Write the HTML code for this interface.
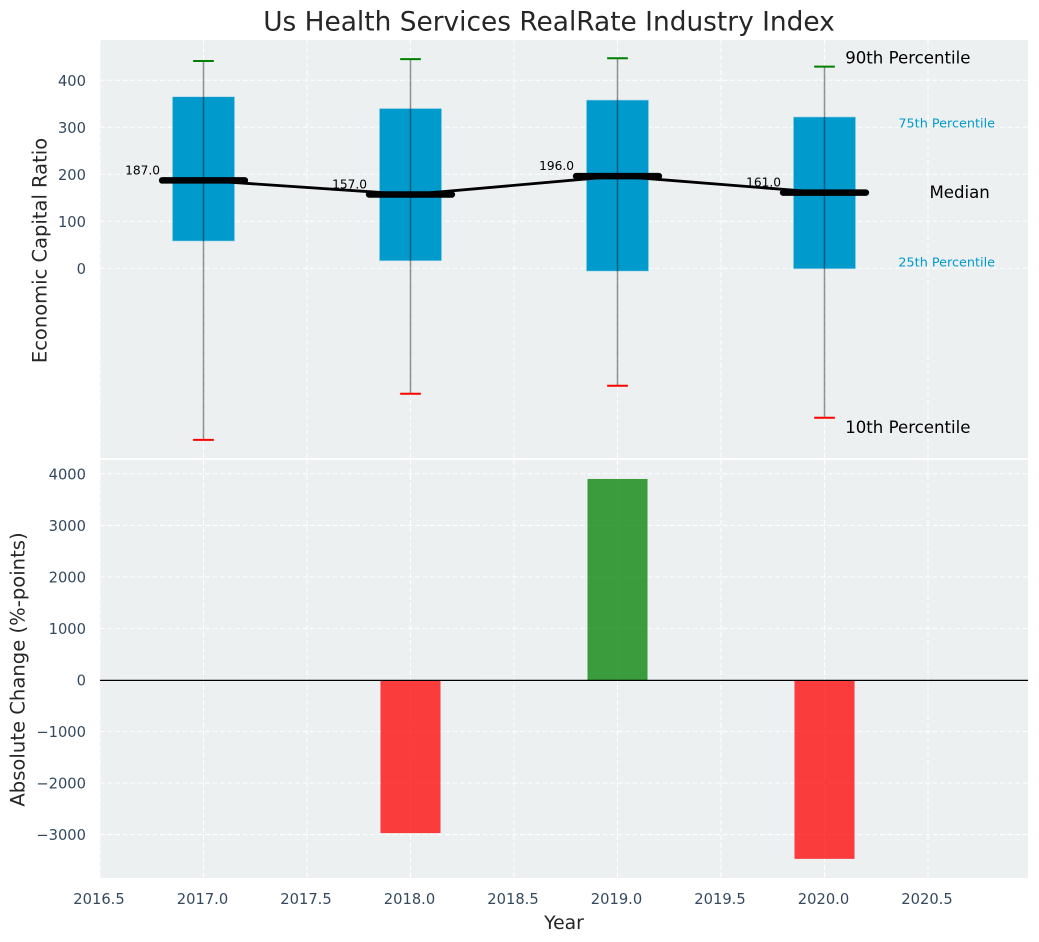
<!DOCTYPE html>
<html lang="en">
<head>
<meta charset="utf-8">
<title>Us Health Services RealRate Industry Index</title>
<style>
html,body{margin:0;padding:0;background:#fff;}
svg{display:block;font-family:"DejaVu Sans","Liberation Sans",sans-serif;}
</style>
</head>
<body>
<svg id="chart" xmlns="http://www.w3.org/2000/svg" width="1039" height="942" viewBox="0 0 1039 942">
  <rect x="100" y="40" width="928" height="418" fill="#ecf0f1"/>
  <rect x="100" y="460" width="928" height="418" fill="#ecf0f1"/>
  <g id="grid"></g>
  <g id="marks"></g>
  <g id="labels"></g>
  <text x="549" y="30.5" text-anchor="middle" font-size="26.4" fill="#262626">Us Health Services RealRate Industry Index</text>
  <text transform="translate(46.5,250.5) rotate(-90)" text-anchor="middle" font-size="19.5" fill="#262626">Economic Capital Ratio</text>
  <text transform="translate(24.5,669.5) rotate(-90)" text-anchor="middle" font-size="19.6" fill="#262626">Absolute Change (%-points)</text>
  <text x="564" y="929" text-anchor="middle" font-size="18.8" fill="#262626">Year</text>
</svg>
<script>
const years = [2017, 2018, 2019, 2020];
const p90 = [441, 445, 447, 429];
const p75 = [365, 340, 358, 322];
const medians = [187, 157, 196, 161];
const p25 = [58, 16, -6, -1];
const p10 = [-365, -267, -250, -318];
const changes = [0, -2970, 3900, -3470];
const xTicks = [2016.5, 2017, 2017.5, 2018, 2018.5, 2019, 2019.5, 2020, 2020.5];
const xTickLabels = ['2016.5', '2017.0', '2017.5', '2018.0', '2018.5', '2019.0', '2019.5', '2020.0', '2020.5'];
const topTicks = [0, 100, 200, 300, 400];
const bottomTicks = [-3000, -2000, -1000, 0, 1000, 2000, 3000, 4000];

const NS = 'http://www.w3.org/2000/svg';
const gridG = document.getElementById('grid');
const marksG = document.getElementById('marks');
const labelsG = document.getElementById('labels');

function xScale(v) { return 203.5 + (v - 2017) * 207; }
function yTop(v) { return 268.3 - v * 0.47; }
function yBottom(v) { return 680 - v * 0.05155; }

function mk(tag, parent, attrs, content) {
  const node = document.createElementNS(NS, tag);
  for (const key in attrs) node.setAttribute(key, attrs[key]);
  if (content !== undefined) node.textContent = content;
  parent.appendChild(node);
  return node;
}

const gridStyle = { stroke: '#ffffff', 'stroke-width': 1, 'stroke-dasharray': '5 2.5' };

xTicks.forEach((t, i) => {
  const x = xScale(t);
  const gridA = mk('line', gridG, Object.assign({ x1: x, x2: x, y1: 40, y2: 458 }, gridStyle));
  
  
  const gridB = mk('line', gridG, Object.assign({ x1: x, x2: x, y1: 460, y2: 878 }, gridStyle));
  
  
  const label = mk('text', labelsG, { x: x - 1, y: 904, 'text-anchor': 'middle', 'font-size': 14.7, fill: '#34495e' }, xTickLabels[i]);
  
  
});

topTicks.forEach((t) => {
  const y = yTop(t);
  const grid = mk('line', gridG, Object.assign({ x1: 100, x2: 1028, y1: y, y2: y }, gridStyle));
  
  
  const label = mk('text', labelsG, { x: 86, y: y + 5.5, 'text-anchor': 'end', 'font-size': 14.7, fill: '#34495e' }, String(t));
  
  
});

bottomTicks.forEach((t) => {
  const y = yBottom(t);
  const grid = mk('line', gridG, Object.assign({ x1: 100, x2: 1028, y1: y, y2: y }, gridStyle));
  
  
  const text = t < 0 ? '\u2212' + Math.abs(t) : String(t);
  const label = mk('text', labelsG, { x: 86, y: y + 5.5, 'text-anchor': 'end', 'font-size': 14.7, fill: '#34495e' }, text);
  
  
});

/* Interquartile boxes */
years.forEach((year, i) => {
  const x = xScale(year - 0.15);
  const box = mk('rect', marksG, { x: x, y: yTop(p75[i]), width: xScale(year + 0.15) - x, height: yTop(p25[i]) - yTop(p75[i]), fill: '#009ACD', stroke: '#a9d8ea', 'stroke-width': 0.6 });
  
  
});

/* Whiskers and caps */
years.forEach((year, i) => {
  const x = xScale(year);
  const whisker = mk('line', marksG, { x1: x, x2: x, y1: yTop(p90[i]), y2: yTop(p10[i]), stroke: '#000000', 'stroke-opacity': 0.42, 'stroke-width': 1.5 });
  
  
  const capTop = mk('line', marksG, { x1: xScale(year - 0.05), x2: xScale(year + 0.05), y1: yTop(p90[i]), y2: yTop(p90[i]), stroke: '#008000', 'stroke-width': 2 });
  
  
  const capBottom = mk('line', marksG, { x1: xScale(year - 0.05), x2: xScale(year + 0.05), y1: yTop(p10[i]), y2: yTop(p10[i]), stroke: '#ff0000', 'stroke-width': 2 });
  
  
});

/* Median connecting line */
const medianPath = mk('polyline', marksG, {
  points: years.map((year, i) => xScale(year) + ',' + yTop(medians[i])).join(' '),
  fill: 'none', stroke: '#000000', 'stroke-width': 2.8
});



/* Median bars and labels */
years.forEach((year, i) => {
  const y = yTop(medians[i]);
  const bar = mk('line', marksG, { x1: xScale(year - 0.2), x2: xScale(year + 0.2), y1: y, y2: y, stroke: '#000000', 'stroke-width': 6.5, 'stroke-linecap': 'round' });
  
  
  const label = mk('text', marksG, { x: xScale(year - 0.21), y: y - 6, 'text-anchor': 'end', 'font-size': 12.2, fill: '#000000' }, medians[i].toFixed(1));
  
  
});

/* Change bars */
years.forEach((year, i) => {
  const value = changes[i];
  if (value === 0) return;
  const x = xScale(year - 0.145);
  const top = Math.min(yBottom(0), yBottom(value));
  const bar = mk('rect', marksG, { x: x, y: top, width: xScale(year + 0.145) - x, height: Math.abs(yBottom(value) - yBottom(0)), fill: value > 0 ? '#008000' : '#ff0000', 'fill-opacity': 0.75 });
  
  
});

const zeroLine = mk('line', marksG, { x1: 100, x2: 1028, y1: yBottom(0) + 0.4, y2: yBottom(0) + 0.4, stroke: '#000000', 'stroke-width': 1.3 });



/* Percentile annotations follow the last year's values */
const last = years.length - 1;
const lastYear = years[last];

const ann90 = mk('text', marksG, { x: xScale(lastYear + 0.1), y: yTop(p90[last]) - 3, 'font-size': 16.6, fill: '#000000' }, '90th Percentile');



const ann75 = mk('text', marksG, { x: xScale(lastYear + 0.357), y: yTop(p75[last]) + 10.5, 'font-size': 12.8, fill: '#009ACD' }, '75th Percentile');



const annMedian = mk('text', marksG, { x: xScale(lastYear + 0.507), y: yTop(medians[last]) + 5.5, 'font-size': 16.6, fill: '#000000' }, 'Median');



const ann25 = mk('text', marksG, { x: xScale(lastYear + 0.357), y: yTop(p25[last]) - 2.5, 'font-size': 12.8, fill: '#009ACD' }, '25th Percentile');



const ann10 = mk('text', marksG, { x: xScale(lastYear + 0.1), y: yTop(p10[last]) + 15, 'font-size': 16.6, fill: '#000000' }, '10th Percentile');


</script>
</body>
</html>
